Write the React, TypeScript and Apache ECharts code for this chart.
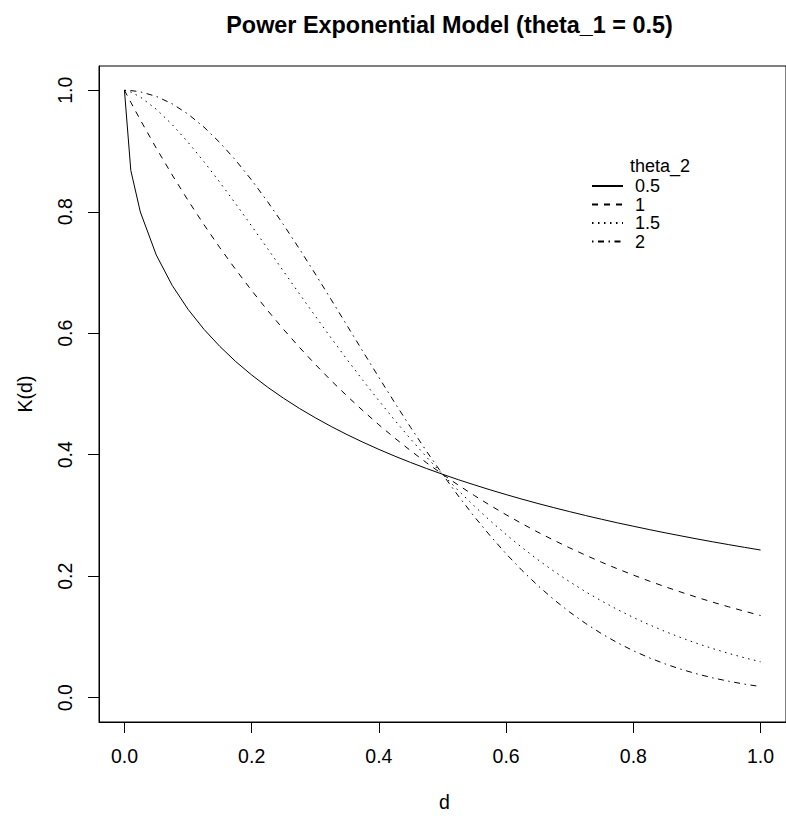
import React, { useEffect, useRef } from "react";
import * as echarts from "echarts";

// distance d
const D = [0, 0.01, 0.025, 0.05, 0.075, 0.1, 0.125, 0.15, 0.175, 0.2, 0.225, 0.25, 0.275, 0.3, 0.325, 0.35, 0.375, 0.4, 0.425, 0.45, 0.475, 0.5, 0.525, 0.55, 0.575, 0.6, 0.625, 0.65, 0.675, 0.7, 0.725, 0.75, 0.775, 0.8, 0.825, 0.85, 0.875, 0.9, 0.925, 0.95, 0.975, 1.0];

// K(d), theta_2 = 0.5, 1, 1.5, 2
const K_05 = [1, 0.8681, 0.7996, 0.7289, 0.6789, 0.6394, 0.6065, 0.5783, 0.5534, 0.5313, 0.5113, 0.4931, 0.4763, 0.4609, 0.4465, 0.4331, 0.4206, 0.4088, 0.3977, 0.3872, 0.3773, 0.3679, 0.3589, 0.3504, 0.3422, 0.3344, 0.3269, 0.3197, 0.3129, 0.3063, 0.2999, 0.2938, 0.2879, 0.2823, 0.2768, 0.2715, 0.2664, 0.2614, 0.2566, 0.252, 0.2475, 0.2431];
const K_1 = [1, 0.9802, 0.9512, 0.9048, 0.8607, 0.8187, 0.7788, 0.7408, 0.7047, 0.6703, 0.6376, 0.6065, 0.5769, 0.5488, 0.522, 0.4966, 0.4724, 0.4493, 0.4274, 0.4066, 0.3867, 0.3679, 0.3499, 0.3329, 0.3166, 0.3012, 0.2865, 0.2725, 0.2592, 0.2466, 0.2346, 0.2231, 0.2122, 0.2019, 0.192, 0.1827, 0.1738, 0.1653, 0.1572, 0.1496, 0.1423, 0.1353];
const K_15 = [1, 0.9972, 0.9889, 0.9689, 0.9436, 0.9144, 0.8825, 0.8485, 0.813, 0.7765, 0.7394, 0.7022, 0.665, 0.6283, 0.5921, 0.5567, 0.5223, 0.4889, 0.4567, 0.4258, 0.3961, 0.3679, 0.341, 0.3155, 0.2913, 0.2686, 0.2472, 0.2271, 0.2083, 0.1908, 0.1744, 0.1593, 0.1452, 0.1321, 0.1201, 0.109, 0.0988, 0.0894, 0.0808, 0.0729, 0.0657, 0.0591];
const K_2 = [1, 0.9996, 0.9975, 0.99, 0.9778, 0.9608, 0.9394, 0.9139, 0.8847, 0.8521, 0.8167, 0.7788, 0.739, 0.6977, 0.6554, 0.6126, 0.5698, 0.5273, 0.4855, 0.4449, 0.4056, 0.3679, 0.332, 0.2982, 0.2665, 0.2369, 0.2096, 0.1845, 0.1616, 0.1409, 0.1222, 0.1054, 0.0905, 0.0773, 0.0657, 0.0556, 0.0468, 0.0392, 0.0326, 0.0271, 0.0223, 0.0183];

const SERIES_NAMES = ["0.5", "1", "1.5", "2"];
const SERIES_VALUES = [K_05, K_1, K_15, K_2];
const X_TICKS = [0, 0.2, 0.4, 0.6, 0.8, 1.0];
const Y_TICKS = [0, 0.2, 0.4, 0.6, 0.8, 1.0];

const TITLE = "Power Exponential Model (theta_1 = 0.5)";
const X_NAME = "d";
const Y_NAME = "K(d)";
const LEGEND_TITLE = "theta_2";

const DASHES: (number[] | "solid")[] = ["solid", [6, 6], [1.5, 4.5], [1.5, 4.5, 6, 4.5]];
const FONT = "'Liberation Sans', Arial, Helvetica, sans-serif";

export default function App() {
  const ref = useRef<HTMLDivElement>(null);
  useEffect(() => {
    document.body.style.margin = "0";
    document.body.style.overflow = "hidden";
    if (!ref.current) return;
    const chart = echarts.init(ref.current, undefined, { renderer: "svg" });
    const left = 99, top = 66, width = 691, height = 656;
    chart.setOption({
      animation: false,
      backgroundColor: "#fff",
      textStyle: { fontFamily: FONT },
      title: {
        text: TITLE,
        left: left + width / 2,
        textAlign: "center",
        top: 8,
        textStyle: { fontSize: 23.4, fontWeight: "bold", color: "#000", fontFamily: FONT },
      },
      grid: { left, top, width, height, show: true, borderColor: "#000", borderWidth: 1, backgroundColor: "transparent", containLabel: false },
      xAxis: {
        type: "value",
        min: -0.04,
        max: 1.04,
        axisLine: { show: true, onZero: false, lineStyle: { color: "#000", width: 1 } },
        splitLine: { show: false },
        axisTick: { show: true, inside: false, customValues: X_TICKS, length: 11, lineStyle: { color: "#000", width: 1 } },
        axisLabel: { customValues: X_TICKS, formatter: (v: number) => v.toFixed(1), fontSize: 19.5, color: "#000", margin: 24, fontFamily: FONT },
      },
      yAxis: {
        type: "value",
        min: -0.04,
        max: 1.04,
        axisLine: { show: true, onZero: false, lineStyle: { color: "#000", width: 1 } },
        splitLine: { show: false },
        axisTick: { show: true, inside: false, customValues: Y_TICKS, length: 11, lineStyle: { color: "#000", width: 1 } },
        axisLabel: { customValues: Y_TICKS, rotate: 90, formatter: (v: number) => v.toFixed(1), fontSize: 19.5, color: "#000", margin: 24, fontFamily: FONT },
      },
      legend: {
        orient: "vertical",
        left: 586,
        top: 172,
        itemWidth: 31,
        itemHeight: 14,
        itemGap: 0.5,
        selectedMode: false,
        data: SERIES_NAMES,
        itemStyle: { opacity: 0 },
        textStyle: { fontSize: 18, color: "#000", lineHeight: 18, padding: [0, 0, 0, 7], fontFamily: FONT },
      },
      graphic: [
        { type: "text", left: 630, top: 157, style: { text: LEGEND_TITLE, fontSize: 18, fill: "#000", fontFamily: FONT } },
        { type: "text", x: left + width / 2, y: 802, style: { text: X_NAME, fontSize: 19.5, fill: "#000", fontFamily: FONT, textAlign: "center", textVerticalAlign: "middle" } },
        { type: "text", x: 25, y: top + height / 2, rotation: Math.PI / 2, style: { text: Y_NAME, fontSize: 19.5, fill: "#000", fontFamily: FONT, textAlign: "center", textVerticalAlign: "middle" } },
      ],
      series: SERIES_VALUES.map((vals, i) => ({
        name: SERIES_NAMES[i],
        type: "line",
        data: D.map((d, j) => [d, vals[j]]),
        symbol: "none",
        showSymbol: false,
        smooth: false,
        lineStyle: { color: "#000", width: 1, type: DASHES[i] },
        itemStyle: { color: "#000" },
      })),
    });
    return () => chart.dispose();
  }, []);
  return <div ref={ref} style={{ width: 786, height: 816 }} />;
}
